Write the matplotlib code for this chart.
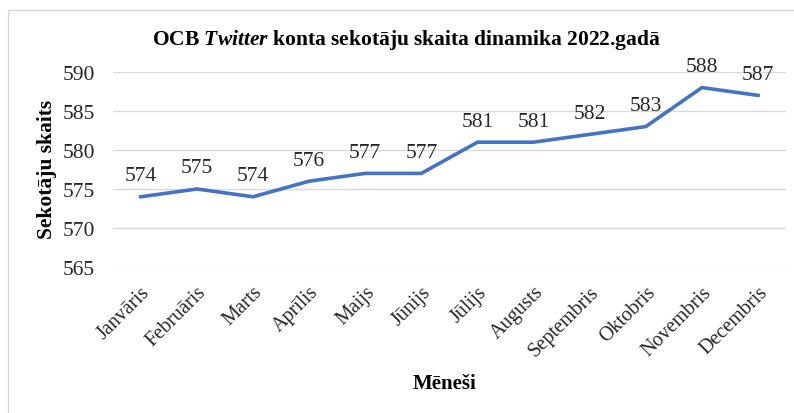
import matplotlib.pyplot as plt
from matplotlib.patches import Rectangle

plt.rcParams['font.family'] = ['Liberation Serif', 'DejaVu Serif']
plt.rcParams['mathtext.fontset'] = 'custom'
plt.rcParams['mathtext.it'] = 'Liberation Serif:italic:bold'
plt.rcParams['mathtext.rm'] = 'Liberation Serif:bold'

# data
months = ["Janvāris", "Februāris", "Marts", "Aprīlis", "Maijs", "Jūnijs",
          "Jūlijs", "Augusts", "Septembris", "Oktobris", "Novembris", "Decembris"]
followers = [574, 575, 574, 576, 577, 577, 581, 581, 582, 583, 588, 587]
yticks = [565, 570, 575, 580, 585, 590]

fig = plt.figure(figsize=(7.94, 4.14), dpi=100)
ax = fig.add_axes([0.142, 0.3527, 0.848, 0.4710])

x = list(range(len(months)))
ax.plot(x, followers, color="#4472C4", linewidth=2.6, solid_joinstyle="miter", zorder=3)
for xi, v in zip(x, followers):
    ax.annotate(str(v), (xi, v), xytext=(0, 12), textcoords="offset points",
                ha="center", va="baseline", fontsize=15.5, color="#262626")

ax.set_xlim(-0.5, len(months) - 0.5)
ax.set_ylim(565, 590)
ax.set_yticks(yticks)
ax.set_yticklabels([str(t) for t in yticks], fontsize=15.5, color="#262626")
ax.set_xticks(x)
ax.set_xticklabels(months, rotation=45, ha="right", rotation_mode="anchor",
                   fontsize=14.5, color="#262626")
ax.tick_params(axis="both", length=0)
ax.tick_params(axis="y", pad=13)
ax.tick_params(axis="x", pad=11)
ax.grid(axis="y", color="#D9D9D9", linewidth=1)
ax.set_axisbelow(True)
for s in ax.spines.values():
    s.set_visible(False)

fig.text(0.512, 0.903, "OCB $\\it{Twitter}$ konta sekotāju skaita dinamika 2022.gadā",
         ha="center", va="center", fontsize=15.5, fontweight="bold")
fig.text(0.560, 0.073, "Mēneši", ha="center", va="center", fontsize=15,
         fontweight="bold")
fig.text(0.059, 0.59, "Sekotāju skaits", rotation=90, ha="center", va="center",
         fontsize=15.5, fontweight="bold")

# outer chart border
fig.patches.append(Rectangle((8 / 794, -0.05), 1.05, 1 - 11 / 414 + 0.05,
                             transform=fig.transFigure, fill=False,
                             edgecolor="#D9D9D9", linewidth=1))

fig.savefig("out.png", dpi=100)
